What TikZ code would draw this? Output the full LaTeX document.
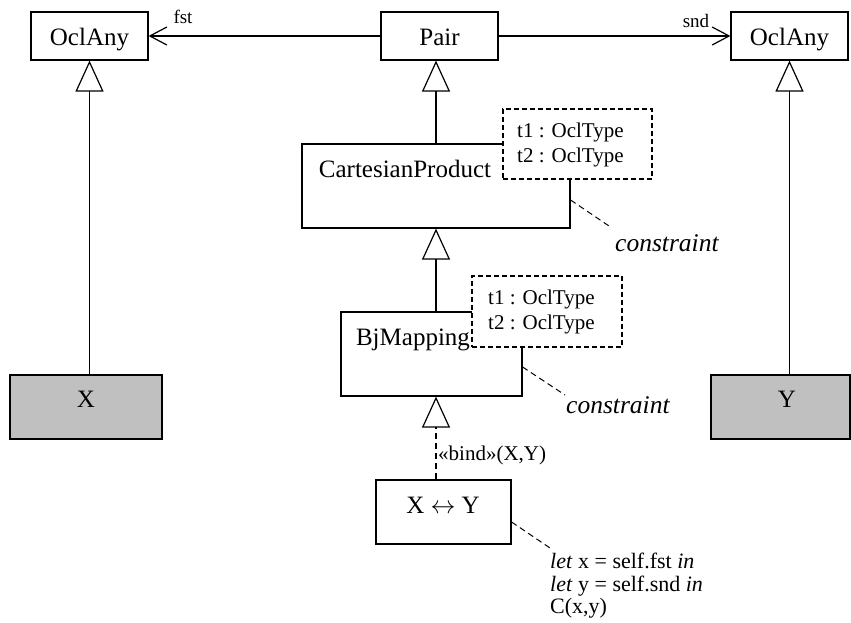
\documentclass[tikz,border=0pt]{standalone}
\usepackage{fontspec}
\setmainfont{Liberation Serif}
\usetikzlibrary{arrows.meta}
\definecolor{boxgray}{HTML}{C0C0C0}
\begin{document}
\begin{tikzpicture}[x=1pt,y=-1pt,
  box/.style={draw, line width=1.2pt, inner sep=0pt, fill=white},
  parambox/.style={draw, line width=1.3pt, inner sep=0pt, fill=white, dash pattern=on 5pt off 3pt},
  bigtxt/.style={inner sep=0pt, anchor=base, font=\fontsize{25}{30}\selectfont},
  smalltxt/.style={inner sep=0pt, anchor=base west, font=\fontsize{21}{23}\selectfont},
  roletxt/.style={inner sep=0pt, anchor=base, font=\fontsize{19}{22}\selectfont},
  gen/.style={line width=1.2pt, -{Triangle[open, length=31pt, width=28pt, line width=1.2pt]}},
  assoc/.style={line width=1.2pt, -{Straight Barb[length=17pt, width=18pt, line width=1.2pt]}},
  note/.style={line width=1pt, dash pattern=on 6pt off 4pt}]
\useasboundingbox (0,0) rectangle (851,622);

% top row
\node[box, minimum width=117pt, minimum height=48pt] (oclL) at (89.5,36) {};
\node[bigtxt] (oclLt) at (89.5,45) {OclAny};
\node[box, minimum width=117pt, minimum height=48pt] (pair) at (439.5,36) {};
\node[bigtxt] (pairt) at (439.5,45) {Pair};
\node[box, minimum width=117pt, minimum height=48pt] (oclR) at (789.5,36) {};
\node[bigtxt] (oclRt) at (789.5,45) {OclAny};

\draw[assoc] (pair.west) -- (oclL.east);
\node[roletxt] (fst) at (183,23) {fst};
\draw[assoc] (pair.east) -- (oclR.west);
\node[roletxt] (snd) at (696,27) {snd};

% X and Y
\node[box, fill=boxgray, minimum width=152pt, minimum height=64pt] (X) at (86,407) {};
\node[bigtxt] (Xt) at (86,407) {X};
\node[box, fill=boxgray, minimum width=139pt, minimum height=64pt] (Y) at (780.5,407) {};
\node[bigtxt] (Yt) at (787,407) {Y};

% CartesianProduct
\node[box, minimum width=268pt, minimum height=84pt] (CP) at (436,186) {};
\node[bigtxt] (CPt) at (405,177) {CartesianProduct};
\node[parambox, minimum width=149pt, minimum height=70pt] (CPp) at (577.5,144) {};
\node[smalltxt] (CPp1) at (517,137) {t1 : OclType};
\node[smalltxt] (CPp2) at (517,162) {t2 : OclType};

% BjMapping
\node[box, minimum width=181pt, minimum height=84pt] (BJ) at (431.5,354) {};
\node[bigtxt] (BJt) at (413,345) {BjMapping};
\node[parambox, minimum width=150pt, minimum height=71pt] (BJp) at (547,311.5) {};
\node[smalltxt] (BJp1) at (488,304) {t1 : OclType};
\node[smalltxt] (BJp2) at (488,329) {t2 : OclType};

% X <-> Y
\node[box, minimum width=135pt, minimum height=64pt] (XY) at (443.5,512) {};
\node[bigtxt] (XYt) at (443,513) {X $\leftrightarrow$ Y};

% generalizations
\draw[gen] (X.north -| oclL.south) -- (oclL.south);
\draw[gen] (Y.north -| oclR.south) -- (oclR.south);
\draw[gen] (CP.north) -- (CP.north |- pair.south);
\draw[gen] (BJ.north -| CP.south) -- (CP.south);
\draw[gen, dash pattern=on 6pt off 4pt] (XY.north -| CP.south) -- (BJ.south -| CP.south);
\node[smalltxt] (bind) at (438,460) {«bind»(X,Y)};

% constraints
\coordinate (cpc) at (612,228);
\draw[note] ([yshift=-14pt]CP.east) -- (cpc);
\node[bigtxt, anchor=base west, font=\fontsize{25.5}{30}\selectfont\itshape] (cpct) at (615,251) {constraint};
\coordinate (bjc) at (565,395);
\draw[note] ([yshift=-13pt]BJ.east) -- (bjc);
\node[bigtxt, anchor=base west, font=\fontsize{25.5}{30}\selectfont\itshape] (bjct) at (566,413) {constraint};
\coordinate (xyc) at (550,548);
\draw[note] ([yshift=-10pt]XY.east) -- (xyc);
\node[smalltxt, font=\fontsize{22}{23}\selectfont] (let1) at (550,568) {\textit{let} x = self.fst \textit{in}};
\node[smalltxt, font=\fontsize{22}{23}\selectfont] (let2) at (550,591) {\textit{let} y = self.snd \textit{in}};
\node[smalltxt, font=\fontsize{22}{23}\selectfont] (let3) at (550,613) {C(x,y)};
\end{tikzpicture}
\end{document}
